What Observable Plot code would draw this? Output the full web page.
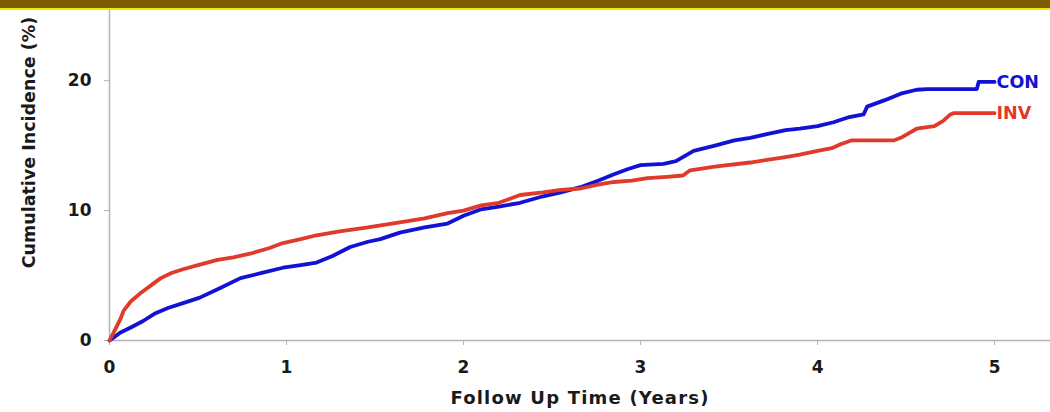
<!DOCTYPE html>
<html>
<head>
<meta charset="utf-8">
<script src="https://cdn.jsdelivr.net/npm/d3@7"></script>
<script src="https://cdn.jsdelivr.net/npm/@observablehq/plot@0.6"></script>
<style>
  html, body { margin: 0; padding: 0; background: #fff; }
  #bar { height: 8px; background: #7b5c00; border-bottom: 2px solid #f4e800; }
  #chart svg { display: block; overflow: visible; }
</style>
</head>
<body>
<div id="bar"></div>
<div id="chart"></div>
<script>
const seriesNames = ["CON", "INV"];
const seriesColors = ["#1212d4", "#e03a2a"];

const conTime = [0, 0.03, 0.06, 0.12, 0.19, 0.26, 0.33, 0.42, 0.51, 0.62, 0.74, 0.86, 0.98, 1.08, 1.17, 1.26, 1.36, 1.46, 1.53, 1.64, 1.78, 1.91, 2.0, 2.10, 2.2, 2.32, 2.45, 2.55, 2.66, 2.76, 2.85, 2.93, 3.0, 3.13, 3.2, 3.30, 3.42, 3.53, 3.62, 3.72, 3.82, 3.90, 4.0, 4.09, 4.18, 4.26, 4.28, 4.38, 4.47, 4.56, 4.62, 4.90, 4.91, 5.0];
const conVal  = [0, 0.3, 0.6, 1.0, 1.5, 2.1, 2.5, 2.9, 3.3, 4.0, 4.8, 5.2, 5.6, 5.8, 6.0, 6.5, 7.2, 7.6, 7.8, 8.3, 8.7, 9.0, 9.6, 10.1, 10.3, 10.6, 11.1, 11.4, 11.8, 12.3, 12.8, 13.2, 13.5, 13.6, 13.8, 14.6, 15.0, 15.4, 15.6, 15.9, 16.2, 16.3, 16.5, 16.8, 17.2, 17.4, 18.0, 18.5, 19.0, 19.3, 19.35, 19.35, 19.9, 19.9];

const invTime = [0, 0.03, 0.06, 0.08, 0.12, 0.18, 0.24, 0.29, 0.35, 0.42, 0.5, 0.61, 0.70, 0.80, 0.90, 0.98, 1.08, 1.17, 1.3, 1.46, 1.55, 1.64, 1.78, 1.91, 2.0, 2.10, 2.2, 2.32, 2.45, 2.55, 2.66, 2.76, 2.85, 2.95, 3.04, 3.15, 3.24, 3.28, 3.43, 3.62, 3.81, 3.9, 4.0, 4.08, 4.13, 4.19, 4.43, 4.47, 4.56, 4.66, 4.71, 4.75, 4.77, 5.0];
const invVal  = [0, 0.8, 1.6, 2.3, 3.0, 3.7, 4.3, 4.8, 5.2, 5.5, 5.8, 6.2, 6.4, 6.7, 7.1, 7.5, 7.8, 8.1, 8.4, 8.7, 8.9, 9.1, 9.4, 9.8, 10.0, 10.4, 10.6, 11.2, 11.4, 11.6, 11.7, 12.0, 12.2, 12.3, 12.5, 12.6, 12.7, 13.1, 13.4, 13.7, 14.1, 14.3, 14.6, 14.8, 15.1, 15.4, 15.4, 15.6, 16.3, 16.5, 16.9, 17.4, 17.5, 17.5];

const xTicks = [0, 1, 2, 3, 4, 5];
const yTicks = [0, 10, 20];
const xLabel = "Follow Up Time (Years)";
const yLabel = "Cumulative Incidence (%)";

const rows = [
  ...conTime.map((t, i) => ({series: "CON", t, v: conVal[i]})),
  ...invTime.map((t, i) => ({series: "INV", t, v: invVal[i]}))
];
const ends = [
  {series: "CON", t: conTime[conTime.length - 1], v: conVal[conVal.length - 1]},
  {series: "INV", t: invTime[invTime.length - 1], v: invVal[invVal.length - 1]}
];

const font = "'DejaVu Sans', Verdana, sans-serif";

const chart = Plot.plot({
  width: 1050,
  height: 402,
  marginLeft: 109,
  marginRight: 0,
  marginTop: 0,
  marginBottom: 72,
  style: {fontFamily: font, fontSize: "16px", fontWeight: "bold", background: "transparent", color: "#1a1a1a"},
  x: {domain: [0, 5.316], ticks: xTicks},
  y: {domain: [0, 25.4], ticks: yTicks},
  color: {domain: seriesNames, range: seriesColors},
  marks: [
    Plot.ruleX([0], {stroke: "#b4b4b4", strokeWidth: 1.5}),
    Plot.ruleY([0], {stroke: "#b4b4b4", strokeWidth: 1.5}),
    Plot.axisX({ticks: xTicks, tickSize: 5, tickPadding: 15, stroke: "#b4b4b4", fill: "#1a1a1a", label: null, tickFormat: d => String(d), fontSize: 17}),
    Plot.axisY({ticks: yTicks, tickSize: 5, tickPadding: 13, stroke: "#b4b4b4", fill: "#1a1a1a", label: null, tickFormat: d => String(d), fontSize: 17}),
    Plot.line(rows, {x: "t", y: "v", z: "series", stroke: "series", strokeWidth: 3.8, strokeLinejoin: "round", curve: "linear"}),
    Plot.text(ends, {x: "t", y: "v", text: "series", fill: "series", textAnchor: "start", dx: 2, fontSize: 17.5, fontWeight: "bold"}),
    Plot.text([xLabel], {frameAnchor: "bottom", textAnchor: "middle", dy: 63, fontSize: 18, fontWeight: "bold", fill: "#1a1a1a"}),
    Plot.text([yLabel], {frameAnchor: "left", textAnchor: "middle", dx: -80, dy: -33, rotate: -90, fontSize: 17.5, fontWeight: "bold", fill: "#1a1a1a"})
  ]
});
chart.querySelectorAll("text").forEach(t => {
  if (t.textContent === xLabel) t.setAttribute("letter-spacing", "1.2");
});
document.getElementById("chart").appendChild(chart);
</script>
</body>
</html>
